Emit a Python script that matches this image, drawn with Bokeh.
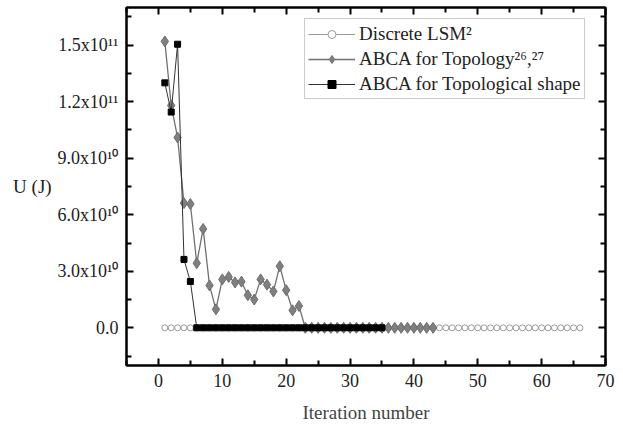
from bokeh.plotting import figure
from bokeh.models import (LinearAxis, FixedTicker, CustomJSTickFormatter, Legend, LegendItem,
                          Range1d, ColumnDataSource)
from bokeh.embed import file_html
from bokeh.resources import INLINE

# ---- data ----
lsm_iter = [1, 2, 3, 4, 5, 6, 7, 8, 9, 10, 11, 12, 13, 14, 15, 16, 17, 18, 19, 20, 21, 22,
            23, 24, 25, 26, 27, 28, 29, 30, 31, 32, 33, 34, 35, 36, 37, 38, 39, 40, 41, 42, 43, 44,
            45, 46, 47, 48, 49, 50, 51, 52, 53, 54, 55, 56, 57, 58, 59, 60, 61, 62, 63, 64, 65, 66]
lsm_u = [0.0, 0.0, 0.0, 0.0, 0.0, 0.0, 0.0, 0.0, 0.0, 0.0, 0.0, 0.0, 0.0, 0.0, 0.0, 0.0, 0.0,
         0.0, 0.0, 0.0, 0.0, 0.0, 0.0, 0.0, 0.0, 0.0, 0.0, 0.0, 0.0, 0.0, 0.0, 0.0, 0.0, 0.0,
         0.0, 0.0, 0.0, 0.0, 0.0, 0.0, 0.0, 0.0, 0.0, 0.0, 0.0, 0.0, 0.0, 0.0, 0.0, 0.0, 0.0,
         0.0, 0.0, 0.0, 0.0, 0.0, 0.0, 0.0, 0.0, 0.0, 0.0, 0.0, 0.0, 0.0, 0.0, 0.0]

topo_iter = [1, 2, 3, 4, 5, 6, 7, 8, 9, 10, 11, 12, 13, 14, 15, 16, 17, 18, 19, 20, 21, 22,
             23, 24, 25, 26, 27, 28, 29, 30, 31, 32, 33, 34, 35, 36, 37, 38, 39, 40, 41, 42, 43]
topo_u = [1.52e11, 1.18e11, 1.01e11, 6.62e10, 6.57e10, 3.43e10, 5.25e10, 2.25e10, 0.98e10,
          2.57e10, 2.70e10, 2.41e10, 2.45e10, 1.73e10, 1.50e10, 2.57e10, 2.29e10, 1.93e10,
          3.27e10, 2.00e10, 0.93e10, 1.16e10, 0.0, 0.0, 0.0, 0.0, 0.0, 0.0, 0.0, 0.0, 0.0, 0.0,
          0.0, 0.0, 0.0, 0.0, 0.0, 0.0, 0.0, 0.0, 0.0, 0.0, 0.0]

shape_iter = [1, 2, 3, 4, 5, 6, 7, 8, 9, 10, 11, 12, 13, 14, 15, 16, 17, 18, 19, 20, 21, 22,
              23, 24, 25, 26, 27, 28, 29, 30, 31, 32, 33, 34, 35]
shape_u = [1.30e11, 1.145e11, 1.505e11, 3.63e10, 2.46e10, 0.0, 0.0, 0.0, 0.0, 0.0, 0.0, 0.0,
           0.0, 0.0, 0.0, 0.0, 0.0, 0.0, 0.0, 0.0, 0.0, 0.0, 0.0, 0.0, 0.0, 0.0, 0.0, 0.0, 0.0,
           0.0, 0.0, 0.0, 0.0, 0.0, 0.0]

series_names = ["Discrete LSM\u00b2", "ABCA for Topology\u00b2\u2076,\u00b2\u2077",
                "ABCA for Topological shape"]

x_ticks = [0, 10, 20, 30, 40, 50, 60, 70]
x_minor = [-5, 5, 15, 25, 35, 45, 55, 65]
y_ticks = [0.0, 3.0e10, 6.0e10, 9.0e10, 1.2e11, 1.5e11]
y_tick_labels = ["0.0", "3.0x10\u00b9\u2070", "6.0x10\u00b9\u2070", "9.0x10\u00b9\u2070",
                 "1.2x10\u00b9\u00b9", "1.5x10\u00b9\u00b9"]
y_minor = [-1.5e10, 1.5e10, 4.5e10, 7.5e10, 1.05e11, 1.35e11, 1.65e11]

FONT = "Liberation Serif"

p = figure(width=623, height=426, output_backend="svg", toolbar_location=None,
           x_range=Range1d(-5, 70), y_range=Range1d(-2.0e10, 1.7e11),
           min_border_left=126, min_border_right=18, min_border_top=7, min_border_bottom=61,
           x_axis_location=None, y_axis_location=None)
p.xgrid.visible = False
p.ygrid.visible = False
p.outline_line_color = "black"
p.outline_line_width = 2
p.background_fill_color = "white"
p.border_fill_color = "white"

yfmt = CustomJSTickFormatter(args=dict(vals=y_ticks, labs=y_tick_labels), code="""
const i = vals.findIndex(v => Math.abs(v - tick) < 1e6);
return i >= 0 ? labs[i] : "";
""")


def style_axis(ax, show_labels):
    ax.axis_line_width = 2
    ax.axis_line_color = "black"
    ax.major_tick_in = 7
    ax.major_tick_out = 0
    ax.minor_tick_in = 5
    ax.minor_tick_out = 0
    ax.major_tick_line_width = 2
    ax.minor_tick_line_width = 2
    ax.major_label_text_font = FONT
    ax.major_label_text_font_size = "18px"
    ax.major_label_text_color = "#222222"
    if not show_labels:
        ax.formatter = CustomJSTickFormatter(code="return '';")
        ax.major_label_standoff = 0


xb = LinearAxis(ticker=FixedTicker(ticks=x_ticks, minor_ticks=x_minor))
style_axis(xb, True)
xb.major_label_standoff = 8
xb.axis_label = "Iteration number"
xb.axis_label_text_font = FONT
xb.axis_label_text_font_size = "19px"
xb.axis_label_text_font_style = "normal"
xb.axis_label_standoff = 12
p.add_layout(xb, "below")

xt = LinearAxis(ticker=FixedTicker(ticks=x_ticks, minor_ticks=x_minor))
style_axis(xt, False)
p.add_layout(xt, "above")

yl = LinearAxis(ticker=FixedTicker(ticks=y_ticks, minor_ticks=y_minor), formatter=yfmt)
style_axis(yl, True)
yl.major_label_standoff = 8
yl.axis_label = "U (J)"
yl.axis_label_text_font = FONT
yl.axis_label_text_font_size = "19px"
yl.axis_label_text_font_style = "normal"
yl.axis_label_text_color = "#222222"
yl.axis_label_standoff = 3
if "axis_label_orientation" in yl.properties():
    yl.axis_label_orientation = "horizontal"
p.add_layout(yl, "left")

yr = LinearAxis(ticker=FixedTicker(ticks=y_ticks, minor_ticks=y_minor))
style_axis(yr, False)
p.add_layout(yr, "right")

src_lsm = ColumnDataSource(dict(x=lsm_iter, y=lsm_u))
src_topo = ColumnDataSource(dict(x=topo_iter, y=topo_u))
src_shape = ColumnDataSource(dict(x=shape_iter, y=shape_u))

l1 = p.line("x", "y", source=src_lsm, line_color="#999999", line_width=1)
m1 = p.scatter("x", "y", source=src_lsm, marker="circle", size=6, fill_color="white",
               line_color="#9a9a9a", line_width=1)
l2 = p.line("x", "y", source=src_topo, line_color="#707070", line_width=1.3)
m2 = p.scatter("x", "y", source=src_topo, marker="diamond", size=11, fill_color="#7f7f7f",
               line_color="#6e6e6e", line_width=1)
l3 = p.line("x", "y", source=src_shape, line_color="#333333", line_width=1)
m3 = p.scatter("x", "y", source=src_shape, marker="square", size=6, fill_color="black",
               line_color="black", line_width=1)

legend = Legend(items=[LegendItem(label=series_names[0], renderers=[l1, m1]),
                       LegendItem(label=series_names[1], renderers=[l2, m2]),
                       LegendItem(label=series_names[2], renderers=[l3, m3])],
                location=(178, 266))
legend.label_text_font = FONT
legend.label_text_font_size = "19px"
legend.label_text_color = "#222222"
legend.glyph_width = 47
legend.glyph_height = 20
legend.label_height = 23
legend.spacing = 2
legend.padding = 3
legend.margin = 0
legend.label_standoff = 4
legend.border_line_color = "#999999"
legend.border_line_width = 1
legend.background_fill_color = "white"
legend.background_fill_alpha = 1
p.add_layout(legend)

open("out.html", "w").write(file_html(p, INLINE))
